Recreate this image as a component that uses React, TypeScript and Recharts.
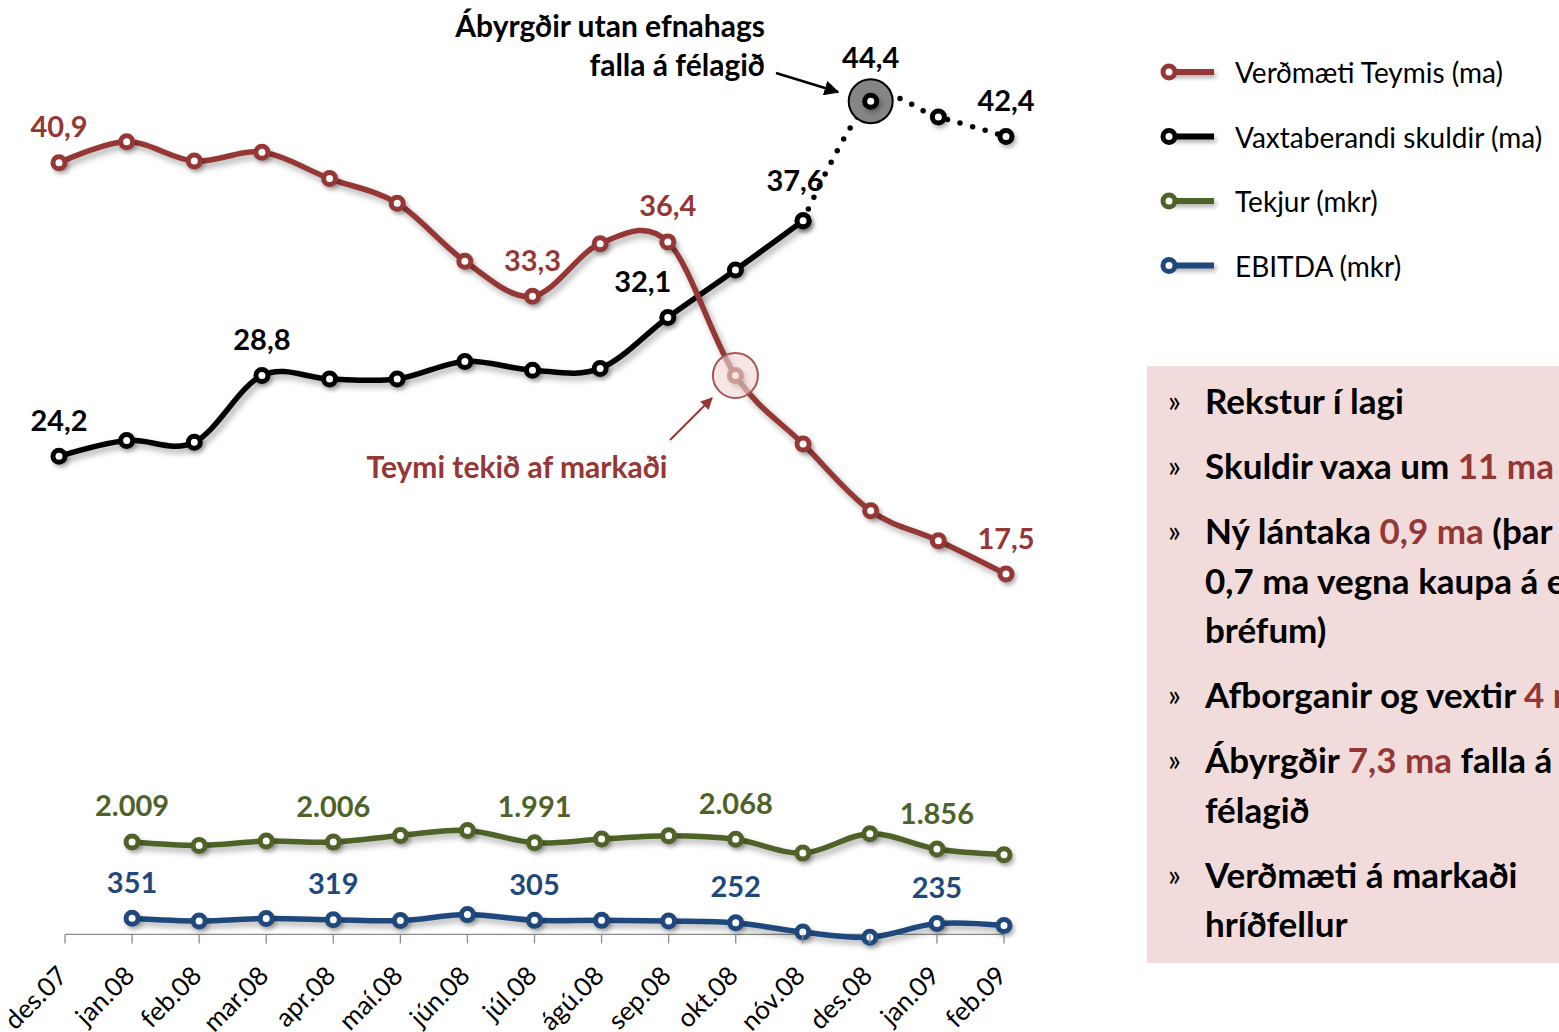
import React from 'react';
import { LineChart, Line, XAxis, YAxis, ReferenceLine } from 'recharts';

// ---------- data ----------
const months = ['des.07', 'jan.08', 'feb.08', 'mar.08', 'apr.08', 'maí.08', 'jún.08', 'júl.08', 'ágú.08', 'sep.08', 'okt.08', 'nóv.08', 'des.08', 'jan.09', 'feb.09'];
const verdmaeti = [40.9, 42.1, 41.0, 41.5, 40.0, 38.6, 35.3, 33.3, 36.3, 36.4, 28.8, 24.9, 21.1, 19.4, 17.5];
const skuldir = [24.2, 25.1, 25.0, 28.8, 28.6, 28.6, 29.6, 29.1, 29.2, 32.1, 34.8, 37.6, 44.4, 43.5, 42.4];
const tekjur = [null, 2009, 1935, 2028, 2006, 2152, 2261, 1991, 2072, 2146, 2068, 1767, 2189, 1856, 1733];
const ebitda = [null, 351, 290, 345, 319, 300, 430, 305, 305, 290, 252, 50, -60, 235, 195];

const SKULDIR_DOTTED_FROM = 11; // nóv.08 onwards drawn dotted
const GREY_HIGHLIGHT = 12; // des.08
const PINK_HIGHLIGHT = 10; // okt.08

const verdLabelIdx = [0, 7, 9, 14];
const skuldLabelIdx = [0, 3, 9, 11, 12, 14];
const bottomLabelIdx = [1, 4, 7, 10, 13];

const seriesNames = ['Verðmæti Teymis (ma)', 'Vaxtaberandi skuldir (ma)', 'Tekjur (mkr)', 'EBITDA (mkr)'];

const RED = '#953735';
const BLACK = '#000000';
const GREEN = '#4F6228';
const BLUE = '#1F497D';
const seriesColors = [RED, BLACK, GREEN, BLUE];

const FONT = 'Lato, "Open Sans", sans-serif';

// ---------- Excel-like smoothing (Catmull-Rom / cardinal tension 0) ----------
class ExcelCurve {
  _context: any; _k = 1 / 6; _line = NaN; _point = 0;
  _x0 = NaN; _x1 = NaN; _x2 = NaN; _y0 = NaN; _y1 = NaN; _y2 = NaN;
  constructor(context: any) { this._context = context; }
  areaStart() { this._line = 0; }
  areaEnd() { this._line = NaN; }
  lineStart() { this._x0 = this._x1 = this._x2 = this._y0 = this._y1 = this._y2 = NaN; this._point = 0; }
  lineEnd() {
    switch (this._point) {
      case 2: this._context.lineTo(this._x2, this._y2); break;
      case 3: this._bez(this._x1, this._y1); break;
    }
    if (this._line || (this._line !== 0 && this._point === 1)) this._context.closePath();
    this._line = 1 - this._line;
  }
  _bez(x: number, y: number) {
    this._context.bezierCurveTo(
      this._x1 + this._k * (this._x2 - this._x0), this._y1 + this._k * (this._y2 - this._y0),
      this._x2 + this._k * (this._x1 - x), this._y2 + this._k * (this._y1 - y),
      this._x2, this._y2);
  }
  point(x: number, y: number) {
    x = +x; y = +y;
    switch (this._point) {
      case 0: this._point = 1; this._line ? this._context.lineTo(x, y) : this._context.moveTo(x, y); break;
      case 1: this._point = 2; this._x1 = x; this._y1 = y; break;
      case 2: this._point = 3; this._bez(x, y); break;
      default: this._bez(x, y); break;
    }
    this._x0 = this._x1; this._x1 = this._x2; this._x2 = x;
    this._y0 = this._y1; this._y1 = this._y2; this._y2 = y;
  }
}
const excelCurve: any = (context: any) => new ExcelCurve(context);

// ---------- formatting ----------
const fmtMa = (v: number) => v.toFixed(1).replace('.', ',');
const fmtKr = (v: number) => {
  const a = Math.abs(Math.round(v));
  const s = a >= 1000 ? `${Math.floor(a / 1000)}.${String(a % 1000).padStart(3, '0')}` : String(a);
  return v < 0 ? `-${s}` : s;
};

// ---------- chart data ----------
const topData = months.map((m, i) => ({
  month: m,
  verd: verdmaeti[i],
  skSolid: i <= SKULDIR_DOTTED_FROM ? skuldir[i] : null,
  skDot: i >= SKULDIR_DOTTED_FROM ? skuldir[i] : null,
  skHl: i === GREY_HIGHLIGHT ? skuldir[i] : null,
}));
const bottomData = months.map((m, i) => ({ month: m, tekjur: tekjur[i], ebitda: ebitda[i] }));

// ---------- layout ----------
const TOP_W = 1100, TOP_H = 640;
const TOP_MARGIN = { top: 38, right: TOP_W - 1006, bottom: TOP_H - 38 - 580, left: 59 };
const TOP_DOMAIN: [number, number] = [15, 48];

const BOT_TOP = 780;
const BOT_W = 1100, BOT_H = 1032 - BOT_TOP;
const BOT_DOMAIN: [number, number] = [-100, 2400];
const BOT_PLOT_H = 115;
const BOT_XAXIS_H = 30;
const BOT_MARGIN = { top: 44, right: BOT_W - 1004, bottom: BOT_H - 44 - BOT_PLOT_H - BOT_XAXIS_H, left: 65 };
const ZERO_OFFSET = ((0 - BOT_DOMAIN[0]) / (BOT_DOMAIN[1] - BOT_DOMAIN[0])) * BOT_PLOT_H;

const MARKER_R = 6;
const MARKER_SW = 5;
const LABEL_FS = 29;
const LABEL_RISE = 37;

type Shift = { [k: number]: [number, number] };
const skuldShift: Shift = { 9: [-25, 0], 11: [-8, -4], 12: [0, -8] };

const makeDot = (color: string, labelIdx: number[], fmt: (v: number) => string, shift: Shift = {}, extra?: (cx: number, cy: number, i: number) => any) =>
  (p: any) => {
    const { cx, cy, index, value } = p;
    if (cx == null || cy == null || value == null || isNaN(cy)) return <g key={`e-${index}`} />;
    const sh = shift[index] || [0, 0];
    return (
      <g key={`d-${index}`}>
        <circle className="mk" cx={cx} cy={cy} r={MARKER_R} fill="#fff" stroke={color} strokeWidth={MARKER_SW} />
        {extra ? extra(cx, cy, index) : null}
        {labelIdx.includes(index) ? (
          <text x={cx + sh[0]} y={cy - LABEL_RISE + sh[1]} textAnchor="middle" dominantBaseline="central"
            fill={color} fontFamily={FONT} fontWeight={700} fontSize={LABEL_FS}>{fmt(value)}</text>
        ) : null}
      </g>
    );
  };

const greyDot = (p: any) => {
  const { cx, cy, index, value } = p;
  if (cx == null || cy == null || value == null || isNaN(cy)) return <g key={`g-${index}`} />;
  return <circle key={`g-${index}`} cx={cx} cy={cy} r={22} fill="#858585" stroke="#000" strokeWidth={2} />;
};

const pinkExtra = (cx: number, cy: number, i: number) =>
  i === PINK_HIGHLIGHT ? <circle cx={cx} cy={cy} r={22.5} fill="rgba(240,214,213,0.62)" stroke="#a85553" strokeWidth={2} /> : null;

const renderBottomTick = (p: any) => {
  const { x, y, payload, index } = p;
  const zeroY = y - ZERO_OFFSET;
  const ax = x + 4, ay = zeroY + 43;
  return (
    <g key={`t-${index}`}>
      <line x1={x} x2={x} y1={zeroY} y2={zeroY + 9} stroke="#8c8c8c" strokeWidth={1.3} />
      <text x={ax} y={ay} transform={`rotate(-45, ${ax}, ${ay})`} textAnchor="end" fill="#000"
        fontFamily={FONT} fontSize={26}>{payload.value}</text>
    </g>
  );
};

type Seg = { t: string; red?: boolean };
const bullets: Seg[][][] = [
  [[{ t: 'Rekstur í lagi' }]],
  [[{ t: 'Skuldir vaxa um ' }, { t: '11 ma', red: true }]],
  [[{ t: 'Ný lántaka ' }, { t: '0,9 ma', red: true }, { t: ' (þar af' }], [{ t: '0,7 ma vegna kaupa á eigin' }], [{ t: 'bréfum)' }]],
  [[{ t: 'Afborganir og vextir ' }, { t: '4 ma', red: true }]],
  [[{ t: 'Ábyrgðir ' }, { t: '7,3 ma', red: true }, { t: ' falla á' }], [{ t: 'félagið' }]],
  [[{ t: 'Verðmæti á markaði' }], [{ t: 'hríðfellur' }]],
];

const css = `
.shadow-line .recharts-line-curve { filter: drop-shadow(3px 4px 3px rgba(0,0,0,0.32)); }
.mk { filter: drop-shadow(2px 3px 2px rgba(0,0,0,0.3)); }
.dotted .recharts-line-curve { stroke-linecap: round; }
`;

export default function App() {
  return (
    <div style={{ position: 'absolute', left: 0, top: 0, width: 1559, height: 1032, overflow: 'hidden', background: '#fff', fontFamily: FONT }}>
      <style>{css}</style>

      {/* top chart */}
      <div style={{ position: 'absolute', left: 0, top: 0 }}>
        <LineChart width={TOP_W} height={TOP_H} data={topData} margin={TOP_MARGIN}>
          <XAxis dataKey="month" hide padding={{ left: 0, right: 0 }} />
          <YAxis hide domain={TOP_DOMAIN} type="number" />
          <Line dataKey="skHl" stroke="none" dot={greyDot} activeDot={false} isAnimationActive={false} legendType="none" />
          <Line className="shadow-line" dataKey="skSolid" type={excelCurve} stroke={BLACK} strokeWidth={5.5} dot={makeDot(BLACK, skuldLabelIdx.filter(i => i <= SKULDIR_DOTTED_FROM), fmtMa, skuldShift)} activeDot={false} isAnimationActive={false} />
          <Line className="dotted" dataKey="skDot" type={excelCurve} stroke={BLACK} strokeWidth={5.5} strokeDasharray="0 13" dot={makeDot(BLACK, skuldLabelIdx.filter(i => i > SKULDIR_DOTTED_FROM), fmtMa, skuldShift)} activeDot={false} isAnimationActive={false} />
          <Line className="shadow-line" dataKey="verd" type={excelCurve} stroke={RED} strokeWidth={5.5} dot={makeDot(RED, verdLabelIdx, fmtMa, {}, pinkExtra)} activeDot={false} isAnimationActive={false} />
        </LineChart>
      </div>

      {/* bottom chart */}
      <div style={{ position: 'absolute', left: 0, top: BOT_TOP }}>
        <LineChart width={BOT_W} height={BOT_H} data={bottomData} margin={BOT_MARGIN}>
          <XAxis dataKey="month" interval={0} axisLine={false} tickLine={false} tickSize={0} tickMargin={0} height={BOT_XAXIS_H} tick={renderBottomTick} padding={{ left: 0, right: 0 }} />
          <YAxis hide domain={BOT_DOMAIN} type="number" />
          <ReferenceLine y={0} stroke="#8c8c8c" strokeWidth={1.3} />
          <Line className="shadow-line" dataKey="tekjur" type={excelCurve} stroke={GREEN} strokeWidth={5.5} dot={makeDot(GREEN, bottomLabelIdx, fmtKr)} activeDot={false} isAnimationActive={false} />
          <Line className="shadow-line" dataKey="ebitda" type={excelCurve} stroke={BLUE} strokeWidth={5.5} dot={makeDot(BLUE, bottomLabelIdx, fmtKr)} activeDot={false} isAnimationActive={false} />
        </LineChart>
      </div>

      {/* annotations + legend */}
      <svg width={1559} height={1032} style={{ position: 'absolute', left: 0, top: 0, pointerEvents: 'none' }}>
        <defs>
          <marker id="arrBlack" viewBox="0 0 10 10" refX="9" refY="5" markerWidth="6" markerHeight="6" orient="auto-start-reverse">
            <path d="M0,0 L10,5 L0,10 z" fill="#000" />
          </marker>
          <marker id="arrRed" viewBox="0 0 10 10" refX="9" refY="5" markerWidth="6" markerHeight="6" orient="auto-start-reverse">
            <path d="M0,0 L10,5 L0,10 z" fill={RED} />
          </marker>
        </defs>
        <text x={765} y={25} textAnchor="end" dominantBaseline="central" fontFamily={FONT} fontWeight={700} fontSize={30} fill="#000">Ábyrgðir utan efnahags</text>
        <text x={765} y={64} textAnchor="end" dominantBaseline="central" fontFamily={FONT} fontWeight={700} fontSize={30} fill="#000">falla á félagið</text>
        <line x1={776} y1={73} x2={838} y2={92} stroke="#000" strokeWidth={2.5} markerEnd="url(#arrBlack)" />
        <text x={517} y={466} textAnchor="middle" dominantBaseline="central" fontFamily={FONT} fontWeight={700} fontSize={30} fill={RED}>Teymi tekið af markaði</text>
        <line x1={670} y1={440} x2={712} y2={398} stroke={RED} strokeWidth={2} markerEnd="url(#arrRed)" />

        {seriesNames.map((n, i) => {
          const y = 72 + i * 64.5;
          return (
            <g key={n}>
              <line x1={1168} x2={1214} y1={y} y2={y} stroke={seriesColors[i]} strokeWidth={6} style={{ filter: 'drop-shadow(2px 3px 2px rgba(0,0,0,0.3))' }} />
              <circle cx={1169} cy={y} r={MARKER_R} fill="#fff" stroke={seriesColors[i]} strokeWidth={MARKER_SW} />
              <text x={1235} y={y} dominantBaseline="central" fontFamily={FONT} fontSize={28} fill="#000">{n}</text>
            </g>
          );
        })}
      </svg>

      {/* right box */}
      <div style={{ position: 'absolute', left: 1147, top: 366, width: 600, height: 597, background: '#F2DCDB', boxSizing: 'border-box', paddingTop: 10 }}>
        {bullets.map((para, pi) => (
          <div key={pi} style={{ position: 'relative', marginBottom: 15.5 }}>
            <span style={{ position: 'absolute', left: 21, top: 0, lineHeight: '49.5px', fontSize: 30, fontWeight: 400, color: '#000' }}>»</span>
            {para.map((line, li) => (
              <div key={li} style={{ marginLeft: 58, whiteSpace: 'nowrap', lineHeight: '49.5px', height: 49.5, fontSize: 35, fontWeight: 700, color: '#000' }}>
                {line.map((s, si) => <span key={si} style={{ color: s.red ? RED : '#000' }}>{s.t}</span>)}
              </div>
            ))}
          </div>
        ))}
      </div>
    </div>
  );
}
